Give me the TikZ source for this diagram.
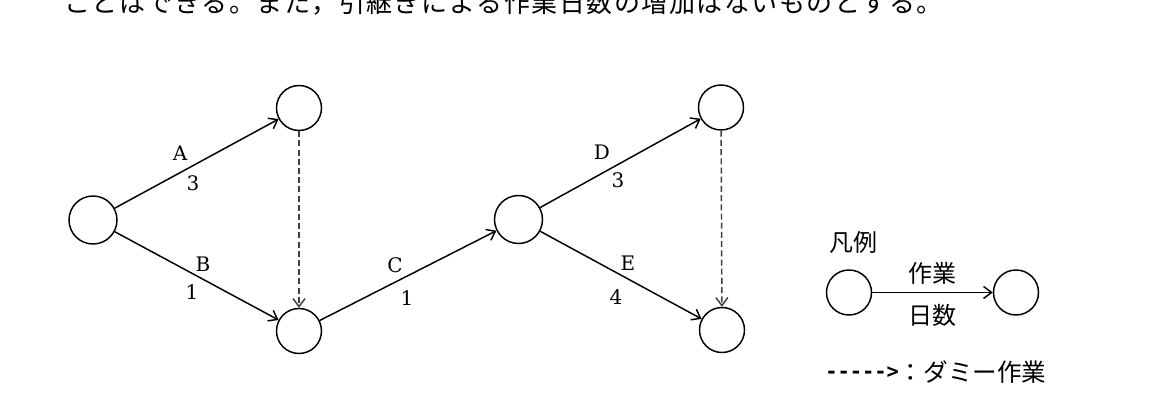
\documentclass[tikz,border=0pt]{standalone}
\usepackage{fontspec}
\newfontfamily\jp{Noto Sans CJK JP}
\newfontfamily\monofnt{DejaVu Sans Mono}
\newfontfamily\serifl{DejaVu Serif}
\usetikzlibrary{arrows.meta}
\def\spacedchars#1{\ifx#1\relax\else\makebox[20.625pt][l]{#1}\expandafter\spacedchars\fi}
\begin{document}
\begin{tikzpicture}[x=0.75pt,y=-0.75pt,
  ev/.style={circle,draw,line width=1.1pt,inner sep=0pt,minimum size=33.75pt},
  evb/.style={ev,minimum size=36pt},
  act/.style={line width=1.1pt,-{Straight Barb[length=6pt,width=9pt,line width=1.1pt]}},
  dum/.style={act,draw=black!75,dash pattern=on 4.5pt off 2.4pt},
  lab/.style={font=\serifl\fontsize{15}{15}\selectfont,inner sep=0pt},
  jl/.style={font=\jp\fontsize{18}{18}\selectfont,inner sep=0pt},
  toptext/.style={font=\jp\fontsize{19.5}{19.5}\selectfont,inner sep=0pt}]
\useasboundingbox (0,0) rectangle (1150,420);
\fill[white] (0,0) rectangle (1150,420);

\node[toptext,anchor=base west] (top) at (64,13) {\spacedchars ことはできる。また，引継ぎによる作業日数の増加はないものとする。\relax};

% events
\node[evb] (s) at (93,220) {};
\node[ev] (a) at (299,108) {};
\node[ev] (b) at (299,331) {};
\node[evb] (m) at (518.5,219.5) {};
\node[ev] (d) at (721,107.5) {};
\node[ev] (e) at (722,330) {};

% activities
\draw[act] (s) -- (a);
\draw[act] (s) -- (b);
\draw[dum] (a) -- (b);
\draw[act] (b) -- (m);
\draw[act] (m) -- (d);
\draw[act] (m) -- (e);
\draw[dum] (d) -- (e);

% labels
\node[lab] (lA) at (180,153) {A};
\node[lab] (nA) at (193,183) {3};
\node[lab] (lB) at (203,264) {B};
\node[lab] (nB) at (192,292) {1};
\node[lab] (lC) at (395,265) {C};
\node[lab] (nC) at (407,298) {1};
\node[lab] (lD) at (602,152) {D};
\node[lab] (nD) at (618,180) {3};
\node[lab] (lE) at (628,263) {E};
\node[lab] (nE) at (616,297) {4};

% legend
\node[jl] (leg) at (853.5,242) {凡例};
\node[ev] (l1) at (849,292.5) {};
\node[ev] (l2) at (1016,292.5) {};
\draw[act] (l1) -- (l2);
\node[jl] (lw) at (932.5,273) {作業};
\node[jl] (ld) at (932.5,315) {日数};
\node[inner sep=0pt,anchor=west] (dm) at (825,372)
  {\raisebox{2.2pt}{\monofnt\bfseries\fontsize{15.3}{15.3}\selectfont ----->}{\jp\fontsize{18.4}{18.4}\selectfont ：ダミー作業}};
\end{tikzpicture}
\end{document}
